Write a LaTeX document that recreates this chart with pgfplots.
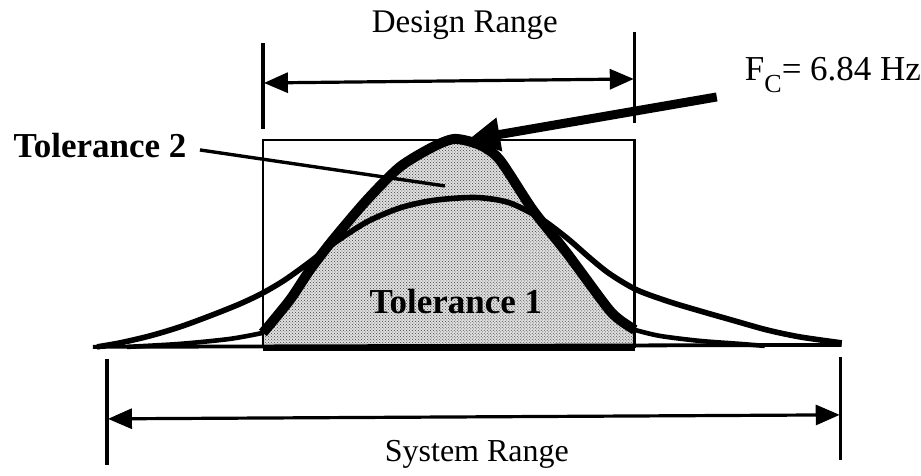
\documentclass[border=0pt]{standalone}
\usepackage{pgfplots}
\pgfplotsset{compat=1.18}
\usepackage{fontspec}
\setmainfont{Liberation Serif}
\usetikzlibrary{arrows.meta,patterns}
\begin{document}
\begin{tikzpicture}
\begin{axis}[hide axis, scale only axis, width=921pt, height=476pt,
  xmin=0, xmax=921, ymin=0, ymax=476, clip=false]
\path (axis cs:0,0) rectangle (axis cs:921,476);
% shaded region (Tolerance 1 within design range)
\addplot[draw=none, fill=black!12, smooth, tension=0.45] coordinates {
 (263,128) (263,143) (290,176) (310,206) (333,236) (367,276) (400,309) (433,329) (455,337)
 (480,331) (500,316) (533,266) (567,223) (607,169) (620,156) (635,146) (635,128)};
\addplot[draw=none, pattern=crosshatch dots, pattern color=black!75, smooth, tension=0.45] coordinates {
 (263,128) (263,143) (290,176) (310,206) (333,236) (367,276) (400,309) (433,329) (455,337)
 (480,331) (500,316) (533,266) (567,223) (607,169) (620,156) (635,146) (635,128)};
% design rectangle
\addplot[black, line width=2.8pt] coordinates {(263,128) (263,336) (635,336) (635,128)};
\addplot[black, line width=6.5pt] coordinates {(263,128) (635,128)};
% baseline
\addplot[black, line width=3.8pt] coordinates {(93,129) (842,131)};
% wide curve (Tolerance 1)
\addplot[black, line width=5.6pt, smooth, tension=0.5] coordinates {
 (97,129) (120,133) (150,140) (180,149) (210,160) (240,172) (263,183) (285,196) (310,214)
 (333,232) (367,254) (400,268) (430,275) (460,278) (483,278) (510,273) (540,258) (567,238)
 (590,218) (610,202) (637,186) (670,174) (700,165) (735,155) (767,146) (800,139) (842,133)};
% narrow curve tails
\addplot[black, line width=4.6pt, smooth] coordinates {(127,129) (180,132) (230,137) (263,143)};
\addplot[black, line width=4.6pt, smooth] coordinates {(635,146) (660,140) (700,135) (740,132) (765,130)};
% narrow curve (Tolerance 2), thick
\addplot[black, line width=10pt, smooth, tension=0.45] coordinates {
 (263,143) (290,176) (310,206) (333,236) (367,276) (400,309) (433,329) (455,337)
 (480,331) (500,316) (533,266) (567,223) (607,169) (620,156) (635,146)};
% design range ticks and arrow
\addplot[black, line width=3.4pt] coordinates {(263,347) (263,433)};
\addplot[black, line width=3.4pt] coordinates {(635,353) (635,444)};
\addplot[black, line width=3.2pt, {Triangle[length=24pt,width=20pt]}-{Triangle[length=24pt,width=20pt]}] coordinates {(264,393) (634,397)};
% system range ticks and arrow
\addplot[black, line width=3.4pt] coordinates {(107,117) (107,11)};
\addplot[black, line width=3.4pt] coordinates {(841,119) (841,16)};
\addplot[black, line width=3.2pt, {Triangle[length=24pt,width=20pt]}-{Triangle[length=24pt,width=20pt]}] coordinates {(108,57) (840,61)};
% F_c arrow
\addplot[black, line width=9pt, -{Triangle[length=32pt,width=32pt]}] coordinates {(717,379) (468,336)};
% Tolerance 2 leader
\addplot[black, line width=3.4pt] coordinates {(200,326) (445,290)};
% texts
\node[font=\fontsize{33}{38}\selectfont] at (axis cs:465,451) {Design Range};
\node[font=\fontsize{32}{38}\selectfont] at (axis cs:477,21) {System Range};
\node[font=\bfseries\fontsize{35}{40}\selectfont] at (axis cs:100,330) {Tolerance 2};
\node[font=\bfseries\fontsize{35}{40}\selectfont] at (axis cs:456,174) {Tolerance 1};
\node[font=\fontsize{35}{40}\selectfont, anchor=west, inner sep=0pt] at (axis cs:745,401) {F\raisebox{-0.32em}{\fontsize{26}{26}\selectfont C}= 6.84 Hz};
\end{axis}
\end{tikzpicture}
\end{document}
